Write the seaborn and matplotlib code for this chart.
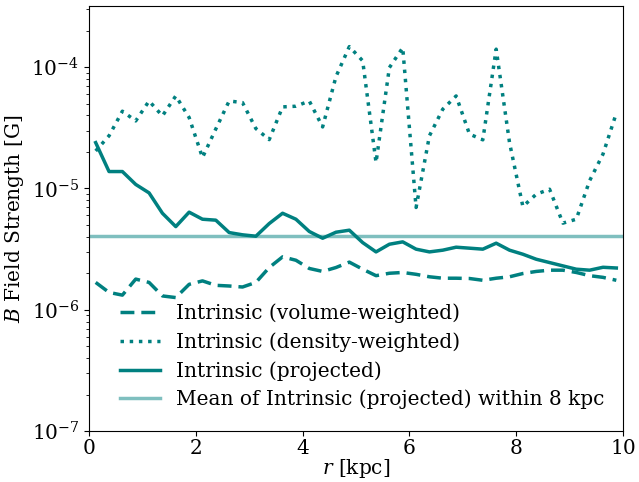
import numpy as np
import pandas as pd
import matplotlib
matplotlib.use("Agg")
import matplotlib.pyplot as plt
from matplotlib.lines import Line2D
import seaborn as sns

# radial bin centres [kpc]
r_kpc = np.arange(40) * 0.25 + 0.125

# magnetic field profiles [G]
b_volume = [1.68e-6, 1.39e-6, 1.32e-6, 1.79e-6, 1.68e-6, 1.30e-6, 1.26e-6, 1.62e-6,
            1.73e-6, 1.59e-6, 1.57e-6, 1.54e-6, 1.68e-6, 2.23e-6, 2.73e-6, 2.56e-6,
            2.19e-6, 2.07e-6, 2.23e-6, 2.47e-6, 2.16e-6, 1.91e-6, 2.00e-6, 2.03e-6,
            1.96e-6, 1.87e-6, 1.82e-6, 1.82e-6, 1.81e-6, 1.75e-6, 1.82e-6, 1.87e-6,
            1.99e-6, 2.07e-6, 2.12e-6, 2.12e-6, 2.03e-6, 1.91e-6, 1.85e-6, 1.75e-6]
b_density = [2.04e-5, 2.72e-5, 4.34e-5, 3.61e-5, 5.27e-5, 3.97e-5, 5.80e-5, 3.85e-5,
             1.80e-5, 3.10e-5, 5.27e-5, 5.11e-5, 3.12e-5, 2.53e-5, 4.71e-5, 4.77e-5,
             5.27e-5, 3.22e-5, 8.37e-5, 1.48e-4, 1.13e-4, 1.64e-5, 9.93e-5, 1.45e-4,
             6.97e-6, 2.72e-5, 4.51e-5, 5.80e-5, 2.81e-5, 2.52e-5, 1.41e-4, 2.39e-5,
             7.10e-6, 8.97e-6, 9.86e-6, 5.18e-6, 5.58e-6, 1.16e-5, 1.92e-5, 4.18e-5]
b_projected = [2.39e-5, 1.38e-5, 1.38e-5, 1.08e-5, 9.2e-6, 6.25e-6, 4.85e-6, 6.38e-6,
               5.58e-6, 5.48e-6, 4.33e-6, 4.15e-6, 4.04e-6, 5.14e-6, 6.25e-6, 5.58e-6,
               4.42e-6, 3.89e-6, 4.36e-6, 4.53e-6, 3.58e-6, 3.00e-6, 3.47e-6, 3.63e-6,
               3.16e-6, 3.00e-6, 3.10e-6, 3.28e-6, 3.22e-6, 3.16e-6, 3.54e-6, 3.10e-6,
               2.87e-6, 2.61e-6, 2.45e-6, 2.30e-6, 2.16e-6, 2.12e-6, 2.24e-6, 2.21e-6]
b_projected_mean = 4.06e-6

labels = ["Intrinsic (volume-weighted)", "Intrinsic (density-weighted)",
          "Intrinsic (projected)"]
mean_label = "Mean of Intrinsic (projected) within 8 kpc"

df = pd.DataFrame({
    "r": np.tile(r_kpc, 3),
    "B": np.concatenate([b_volume, b_density, b_projected]),
    "kind": np.repeat(labels, len(r_kpc)),
})

plt.rcParams["font.family"] = ["DejaVu Serif"]
plt.rcParams["mathtext.fontset"] = "dejavuserif"
plt.rcParams["font.size"] = 14.5

teal = "#008080"
lw = 2.5
fig = plt.figure(figsize=(6.39, 4.82), dpi=100)
ax = fig.add_axes([89 / 639, 1 - 431 / 482, (623 - 89) / 639, (431 - 6) / 482])

sns.lineplot(data=df, x="r", y="B", hue="kind", style="kind",
             palette={k: teal for k in labels},
             dashes={labels[0]: (4, 2), labels[1]: (1, 1.65), labels[2]: ""},
             linewidth=lw, ax=ax, legend=False)
ax.axhline(b_projected_mean, color=teal, alpha=0.5, linewidth=lw)

handles = [
    Line2D([], [], color=teal, lw=lw, dashes=(4, 2)),
    Line2D([], [], color=teal, lw=lw, dashes=(1, 1.65)),
    Line2D([], [], color=teal, lw=lw),
    Line2D([], [], color=teal, lw=lw, alpha=0.5),
]
ax.legend(handles, labels + [mean_label], loc="lower right",
          bbox_to_anchor=(1.0, 0.008), frameon=False,
          fontsize=14.5, handlelength=2.0, labelspacing=0.45)

ax.set_yscale("log")
ax.set_xlim(0, 10)
ax.set_ylim(1e-7, 3.2e-4)
ax.tick_params(axis="x", pad=2.5)
ax.set_xlabel("$r$ [kpc]", labelpad=-1)
ax.set_ylabel("$B$ Field Strength [G]")

fig.savefig("out.png", dpi=100)
